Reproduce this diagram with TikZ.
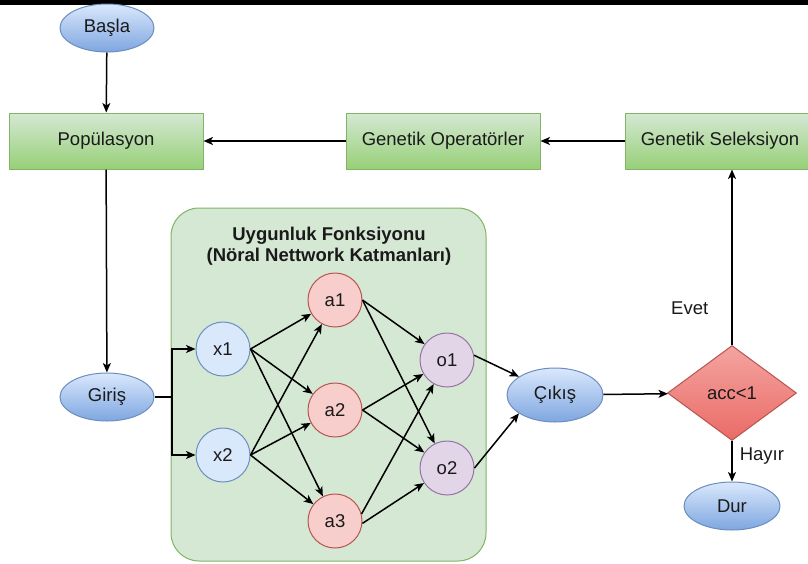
\documentclass[tikz,border=0pt]{standalone}
\usepackage{fontspec}
\setmainfont{Liberation Sans}
\usetikzlibrary{shapes.geometric,arrows.meta}

\definecolor{blueline}{HTML}{6C8EBF}
\definecolor{bluetop}{HTML}{DAE8FC}
\definecolor{bluebot}{HTML}{7EA6E0}
\definecolor{greenline}{HTML}{82B366}
\definecolor{greentop}{HTML}{D5E8D4}
\definecolor{greenbot}{HTML}{97D077}
\definecolor{redline}{HTML}{B85450}
\definecolor{redtop}{HTML}{F4A4A1}
\definecolor{redbot}{HTML}{EA6B66}
\definecolor{redfill}{HTML}{F8CECC}
\definecolor{purpleline}{HTML}{9673A6}
\definecolor{purplefill}{HTML}{E1D5E7}
\definecolor{txt}{HTML}{1A1A1A}

\newcommand\lblfont{\fontsize{18.5}{21}\selectfont}

\tikzset{
  terminal/.style={ellipse, draw=blueline, line width=1pt,
    top color=bluetop, bottom color=bluebot,
    minimum width=94pt, minimum height=48pt, inner sep=0pt,
    font=\lblfont, text=txt},
  procbox/.style={rectangle, draw=greenline, line width=1pt,
    top color=greentop, bottom color=greenbot,
    minimum width=194pt, minimum height=56pt, inner sep=0pt,
    font=\lblfont, text=txt},
  decision/.style={diamond, draw=redline, line width=1pt,
    top color=redtop, bottom color=redbot, aspect=1.36,
    minimum width=129pt, minimum height=95pt, inner sep=0pt,
    font=\lblfont, text=txt},
  neuron/.style={circle, line width=1pt, minimum size=54pt,
    inner sep=0pt, font=\lblfont, text=txt},
  inp/.style={neuron, draw=blueline, fill=bluetop},
  hid/.style={neuron, draw=redline, fill=redfill},
  outp/.style={neuron, draw=purpleline, fill=purplefill},
  arr/.style={-{Stealth[length=9.5pt,width=8pt,inset=2.5pt]}, line width=1.5pt, black},
  plain/.style={line width=1.5pt, black},
  lbl/.style={font=\lblfont, text=txt, inner sep=0pt}
}

\begin{document}
\begin{tikzpicture}[x=1pt, y=-1pt]
\useasboundingbox (0,0) rectangle (808,563);
\clip (0,0) rectangle (808,563);
\fill[white] (0,0) rectangle (808,563);
\fill[black] (0,0) rectangle (808,5);

% fitness-function container
\filldraw[draw=greenline, fill=greentop, line width=1pt, rounded corners=28pt]
  (171,208) rectangle (486,561);
\node[lbl, font=\lblfont\bfseries, align=center] (title) at (329,246)
  {Uygunluk Fonksiyonu\\(Nöral Nettwork Katmanları)};

% flowchart nodes
\node[terminal] (basla) at (107,28) {Başla};
\node[procbox] (pop) at (106,141) {Popülasyon};
\node[procbox] (oper) at (443,141) {Genetik Operatörler};
\node[procbox, minimum width=190pt] (sel) at (720,141) {Genetik Seleksiyon};
\node[terminal] (giris) at (107,397) {Giriş};
\node[terminal, minimum width=96pt, minimum height=54pt] (cikis) at (555,395) {Çıkış};
\node[decision] (acc) at (732,393) {acc<1};
\node[terminal, minimum width=96pt] (dur) at (732,506) {Dur};

% network layers
\node[inp] (x1) at (223,349) {x1};
\node[inp] (x2) at (223,455) {x2};
\node[hid] (a1) at (335,300) {a1};
\node[hid] (a2) at (335,410) {a2};
\node[hid] (a3) at (335,521) {a3};
\node[outp] (o1) at (447,360) {o1};
\node[outp] (o2) at (447,468) {o2};

% flowchart connectors
\draw[arr] (basla) -- (pop);
\draw[arr] (oper) -- (pop);
\draw[arr] (sel.west |- oper) -- (oper);
\draw[arr] (pop) -- (giris);
\coordinate (split) at (172,397);
\draw[plain] (giris) -- (split);
\draw[arr] (split) |- (x1);
\draw[arr] (split) |- (x2);
\draw[arr] (o1.10) -- (cikis.153);
\draw[arr] (o2.east) -- (cikis.207);
\draw[arr] (cikis) -- (acc);
\draw[arr] (acc) -- node[lbl, pos=0.36, right=7pt] {Hayır} (dur);
\draw[arr] (acc.north) -- node[lbl, pos=0.21, left=23pt] {Evet} (acc.north |- sel.south);

% network connections: edges leave each neuron from its east side
\foreach \s in {x1,x2}
  \foreach \t in {a1,a2,a3}
    \draw[arr] (\s.east) -- (\t);
\foreach \s in {a1,a2}
  \foreach \t in {o1,o2}
    \draw[arr] (\s.east) -- (\t);
\draw[arr] (a3.15) -- (o1);
\draw[arr] (a3.-5) -- (o2);
\end{tikzpicture}
\end{document}
